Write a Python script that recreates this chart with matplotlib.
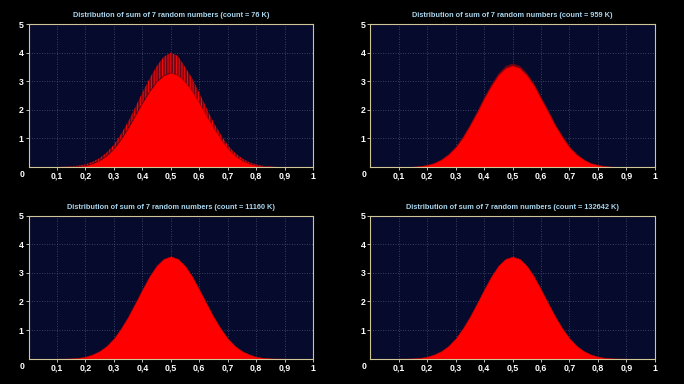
import numpy as np
import matplotlib
matplotlib.use("Agg")
import matplotlib.pyplot as plt

# histogram heights, x from 0.10 to 0.90 in steps of 0.025
X = [0.100, 0.125, 0.150, 0.175, 0.200, 0.225, 0.250, 0.275, 0.300, 0.325, 0.350,
     0.375, 0.400, 0.425, 0.450, 0.475, 0.500, 0.525, 0.550, 0.575, 0.600, 0.625,
     0.650, 0.675, 0.700, 0.725, 0.750, 0.775, 0.800, 0.825, 0.850, 0.875, 0.900]

# 76 K: noisy, solid part and spike tops
LOW_76K = [0.00, 0.00, 0.00, 0.02, 0.05, 0.12, 0.23, 0.40, 0.64, 0.97, 1.36,
           1.80, 2.24, 2.64, 2.98, 3.20, 3.30, 3.21, 2.97, 2.65, 2.23, 1.79,
           1.37, 0.98, 0.65, 0.40, 0.23, 0.12, 0.05, 0.02, 0.00, 0.00, 0.00]
TOP_76K = [0.00, 0.01, 0.02, 0.05, 0.09, 0.18, 0.31, 0.51, 0.78, 1.15, 1.58,
           2.08, 2.60, 3.08, 3.52, 3.85, 4.00, 3.88, 3.50, 3.10, 2.60, 2.08,
           1.57, 1.15, 0.77, 0.50, 0.31, 0.17, 0.09, 0.04, 0.02, 0.00, 0.00]
# 959 K: small jitter on top
LOW_959K = [0.00, 0.00, 0.01, 0.03, 0.07, 0.14, 0.26, 0.44, 0.69, 1.03, 1.45,
            1.91, 2.40, 2.84, 3.22, 3.46, 3.55, 3.46, 3.21, 2.85, 2.38, 1.92,
            1.44, 1.04, 0.68, 0.43, 0.26, 0.13, 0.07, 0.03, 0.01, 0.00, 0.00]
TOP_959K = [0.00, 0.00, 0.02, 0.04, 0.08, 0.16, 0.29, 0.48, 0.74, 1.09, 1.51,
            1.98, 2.47, 2.92, 3.30, 3.55, 3.64, 3.55, 3.29, 2.93, 2.46, 1.99,
            1.50, 1.10, 0.73, 0.47, 0.28, 0.15, 0.08, 0.04, 0.01, 0.00, 0.00]
# 11160 K and 132642 K: smooth
Y_11160K = [0.00, 0.00, 0.01, 0.03, 0.07, 0.15, 0.27, 0.45, 0.71, 1.06, 1.47,
            1.94, 2.42, 2.88, 3.25, 3.49, 3.58, 3.49, 3.25, 2.88, 2.42, 1.94,
            1.47, 1.06, 0.71, 0.45, 0.27, 0.15, 0.07, 0.03, 0.01, 0.00, 0.00]
Y_132642K = [0.00, 0.00, 0.01, 0.03, 0.07, 0.15, 0.27, 0.45, 0.71, 1.06, 1.47,
             1.94, 2.42, 2.88, 3.25, 3.49, 3.57, 3.49, 3.25, 2.88, 2.42, 1.94,
             1.47, 1.06, 0.71, 0.45, 0.27, 0.15, 0.07, 0.03, 0.01, 0.00, 0.00]

COUNTS = ["76", "959", "11160", "132642"]
X_TICKS = [0.1, 0.2, 0.3, 0.4, 0.5, 0.6, 0.7, 0.8, 0.9, 1.0]
X_LABELS = ["0,1", "0,2", "0,3", "0,4", "0,5", "0,6", "0,7", "0,8", "0,9", "1"]
Y_TICKS = [1, 2, 3, 4, 5]

plt.rcParams["font.family"] = ["Liberation Sans", "DejaVu Sans"]
plt.rcParams["font.weight"] = "bold"
plt.rcParams["hatch.linewidth"] = 0.8
plt.rcParams["hatch.color"] = "#f00a0a"

BG = "#000000"
FACE = "#060a2c"
FRAME = "#cfc896"
RED = "#ff0000"
FRINGE = "#6a0616"

fig = plt.figure(figsize=(6.84, 3.84), dpi=100, facecolor=BG)
boxes = [(0.0417, 0.5651), (0.5414, 0.5651), (0.0417, 0.0659), (0.5414, 0.0659)]
series = [(LOW_76K, TOP_76K), (LOW_959K, TOP_959K), (Y_11160K, None), (Y_132642K, None)]

for i, ((left, bottom), (low, top), cnt) in enumerate(zip(boxes, series, COUNTS)):
    ax = fig.add_axes([left, bottom, 0.4159, 0.3724], facecolor=FACE)
    ax.set_axisbelow(True)
    ax.grid(True, color="#4a5276", linestyle=(0, (1, 2)), linewidth=0.6)
    if top is not None:
        ax.fill_between(X, low, top, facecolor=FRINGE, edgecolor="#f00a0a",
                        linewidth=0, hatch="||||||" if i == 0 else None)
    ax.fill_between(X, 0, low, color=RED, linewidth=0.4, edgecolor="#c00000")
    ax.set_xlim(0, 1)
    ax.set_ylim(0, 5)
    ax.set_xticks(X_TICKS)
    ax.set_xticklabels(X_LABELS)
    ax.set_yticks(Y_TICKS)
    for s in ax.spines.values():
        s.set_color(FRAME)
        s.set_linewidth(0.8)
    ax.tick_params(colors="#dddddd", labelcolor="white", length=2, width=0.6,
                   labelsize=6.3, pad=1.5)
    ax.annotate("0", xy=(0, 0), xycoords="axes fraction", xytext=(-6, -7.5),
                textcoords="offset pixels", ha="center", va="center",
                color="white", fontsize=6.3)
    ax.set_title(f"Distribution of sum of 7 random numbers (count = {cnt} K)",
                 color="#a9d6ee", fontsize=5.35, fontweight="bold", pad=5)

fig.savefig("out.png", dpi=100, facecolor=BG)
